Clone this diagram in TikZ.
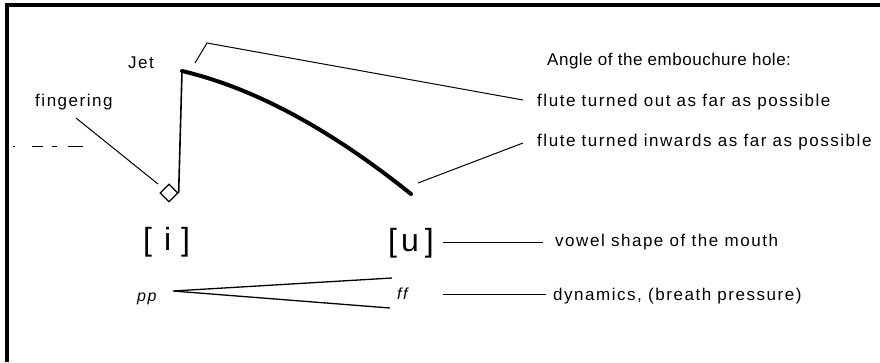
\documentclass[tikz,border=0pt]{standalone}
\usepackage{fontspec}
\usetikzlibrary{shapes.geometric}
\setmainfont{Liberation Sans}[LetterSpace=9]
\newfontfamily\bigfont{Liberation Sans}
\newfontfamily\tightfont{Liberation Sans}[LetterSpace=3]
\begin{document}
\begin{tikzpicture}[x=1pt,y=-1pt,
  lbl/.style={inner sep=0pt,anchor=base west,font=\fontsize{17}{20}\selectfont},
  tightlbl/.style={inner sep=0pt,anchor=base west,font=\tightfont\fontsize{17}{20}\selectfont},
  vow/.style={inner sep=0pt,anchor=base west,font=\bigfont\fontsize{32}{36}\selectfont},
  dyn/.style={inner sep=0pt,anchor=base west,font=\fontsize{16}{19}\selectfont\itshape},
  thinline/.style={line width=1pt},
  midline/.style={line width=1.3pt},
  fingerkey/.style={diamond,draw,line width=1.3pt,minimum size=18pt,inner sep=0pt}]
\useasboundingbox (0,0) rectangle (880,362);
\fill[white] (0,0) rectangle (880,362);
% frame
\draw[line width=3.8pt] (7,362) -- (7,5) -- (880,5);
% texts
\node[lbl] (jet) at (128,68) {Jet};
\node[lbl] (fing) at (35,106) {fingering};
\node[tightlbl] (angle) at (547,65) {Angle of the embouchure hole:};
\node[lbl] (out) at (537,106) {flute turned out as far as possible};
\node[lbl] (inw) at (537,146) {flute turned inwards as far as possible};
\node[lbl] (vowel) at (555,246) {vowel shape of the mouth};
\node[lbl] (dynam) at (553,300) {dynamics, (breath pressure)};
\node[vow] (iv) at (143,250) {[\hspace{12pt}i\hspace{10pt}]};
\node[vow] (uv) at (388,251) {[\hspace{4pt}u\hspace{6pt}]};
\node[dyn] (pp) at (137,301) {pp};
\node[dyn] (ff) at (397,299) {ff};
\node[fingerkey] (dia) at (169,193) {};
% coordinates
\coordinate (jtop) at (182,71);
\coordinate (cend) at (411,194);
\coordinate (jl1) at (195,63);
\coordinate (jl2) at (207,43);
\coordinate (jl3) at (523,100);
\coordinate (il1) at (418,183);
\coordinate (il2) at (523,143);
\coordinate (fl1) at (76,118);
\coordinate (fl2) at (158,184);
\coordinate (hp) at (173,291);
\coordinate (hpu) at (392,278);
\coordinate (hpl) at (390,308);
\coordinate (vl1) at (443,242);
\coordinate (vl2) at (543,242);
\coordinate (dl1) at (443,294);
\coordinate (dl2) at (546,294);
% jet
\draw[line width=1.6pt] (dia.east) -- (jtop);
\draw[line width=4pt,line cap=round] (jtop) .. controls (254,88) and (330,129) .. (cend);
% pointer lines
\draw[thinline] (jl1) -- (jl2) -- (jl3);
\draw[thinline] (il1) -- (il2);
\draw[thinline] (fl1) -- (fl2);
\draw[thinline] (vl1) -- (vl2);
\draw[thinline] (dl1) -- (dl2);
% hairpin
\draw[midline] (hpu) -- (hp) -- (hpl);
% dashes
\draw[line width=0.8pt] (13,146) -- (15,146) (32,146) -- (43,146) (52,146) -- (57,146) (68,146) -- (83,146);
\end{tikzpicture}
\end{document}
